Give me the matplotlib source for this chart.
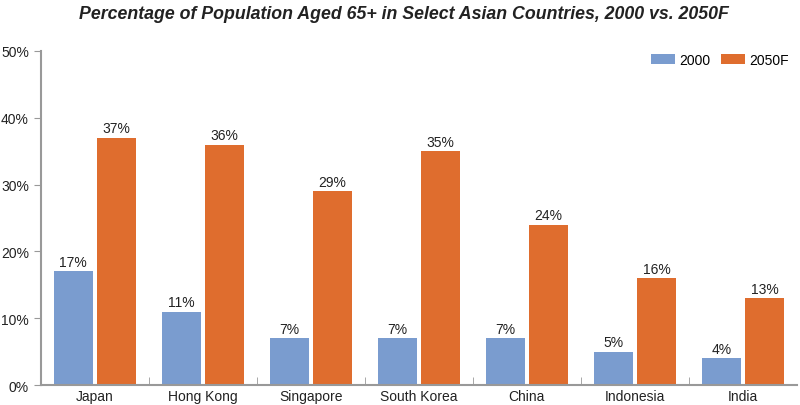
import matplotlib
matplotlib.use("Agg")
import matplotlib.pyplot as plt
import numpy as np
from matplotlib.ticker import FuncFormatter

countries = ["Japan", "Hong Kong", "Singapore", "South Korea", "China", "Indonesia", "India"]
y2000 = [17, 11, 7, 7, 7, 5, 4]
y2050 = [37, 36, 29, 35, 24, 16, 13]
yticks = [0, 10, 20, 30, 40, 50]

plt.rcParams['font.family'] = ['Liberation Sans', 'DejaVu Sans']

fig = plt.figure(figsize=(8, 4.06), dpi=100)
ax = fig.add_axes([0.051, 0.049, 0.945, 0.823])

x = np.arange(len(countries))
w = 0.36
blue = "#7A9CCF"
orange = "#DF6D2E"
b1 = ax.bar(x - 0.2, y2000, w, color=blue, label="2000")
b2 = ax.bar(x + 0.2, y2050, w, color=orange, label="2050F")

for bars, vals in ((b1, y2000), (b2, y2050)):
    for r, v in zip(bars, vals):
        ax.text(r.get_x() + r.get_width() / 2, v + 0.4, f"{v}%", ha="center", va="bottom",
                fontsize=10, color="#222222")

ax.set_xlim(-0.5, len(countries) - 0.5)
ax.set_ylim(0, 50)
ax.set_yticks(yticks)
ax.yaxis.set_major_formatter(FuncFormatter(lambda v, p: f"{int(v)}%"))
ax.set_xticks(x)
ax.set_xticklabels(countries)
ax.set_xticks(np.arange(0.5, len(countries) - 0.5, 1), minor=True)
ax.tick_params(axis="x", which="major", length=0, labelsize=10, pad=3, colors="#222222")
ax.tick_params(axis="x", which="minor", direction="in", length=6, color="#999999")
ax.tick_params(axis="y", length=5, color="#999999", labelsize=10, labelcolor="#222222")

for s in ("top", "right"):
    ax.spines[s].set_visible(False)
for s in ("left", "bottom"):
    ax.spines[s].set_color("#999999")
    ax.spines[s].set_linewidth(1.5)

ax.legend(loc="upper right", frameon=False, fontsize=10, ncol=2, handlelength=1.7,
          handleheight=0.7, handletextpad=0.3, columnspacing=0.8,
          bbox_to_anchor=(1.0, 1.02), borderaxespad=0.2)

fig.text(0.505, 0.985, "Percentage of Population Aged 65+ in Select Asian Countries, 2000 vs. 2050F",
         ha="center", va="top", fontsize=12.8, fontweight="bold", fontstyle="italic", color="#222222")

fig.savefig("out.png", dpi=100)
